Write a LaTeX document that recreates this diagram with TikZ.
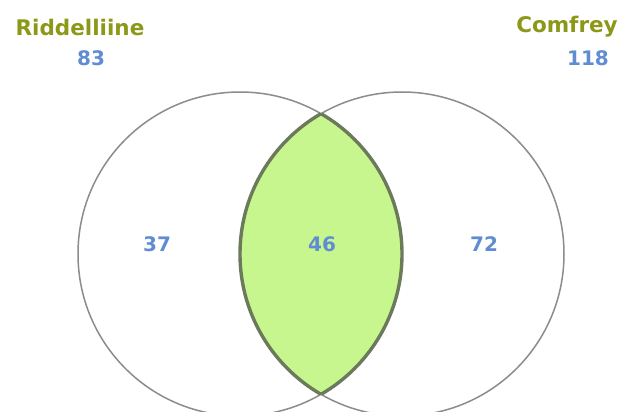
\documentclass[tikz,border=0pt]{standalone}
\usepackage{fontspec}
\setmainfont{DejaVu Sans}
\definecolor{titleolive}{RGB}{140,152,24}
\definecolor{numblue}{RGB}{96,140,210}
\definecolor{lensgreen}{RGB}{200,246,142}
\definecolor{circgray}{RGB}{140,140,140}
\definecolor{lensedge}{RGB}{108,122,92}
\tikzset{
  circ/.style={draw=circgray, line width=1.5pt},
  lensline/.style={draw=lensedge, line width=3.4pt},
  titlelabel/.style={text=titleolive, font=\fontsize{21.5}{24}\selectfont\bfseries, inner sep=0pt},
  numlabel/.style={text=numblue, font=\fontsize{20}{24}\selectfont\bfseries, inner sep=0pt},
}
\begin{document}
\begin{tikzpicture}[x=1pt,y=-1pt]
\useasboundingbox (0,0) rectangle (624,412);
\fill[white] (0,0) rectangle (624,412);
\coordinate (cl) at (240,254);
\coordinate (cr) at (402,254);
\begin{scope}
  \clip (0,0) rectangle (624,412);
  \begin{scope}
    \clip (cl) circle[radius=162];
    \fill[lensgreen] (cr) circle[radius=162];
  \end{scope}
  \draw[circ] (cl) circle[radius=162];
  \draw[circ] (cr) circle[radius=162];
  \begin{scope}
    \clip (cl) circle[radius=162];
    \draw[lensline] (cr) circle[radius=162];
  \end{scope}
  \begin{scope}
    \clip (cr) circle[radius=162];
    \draw[lensline] (cl) circle[radius=162];
  \end{scope}
\end{scope}
\node[titlelabel] (tl) at (80,27) {Riddelliine};
\node[numlabel] (nl) at (91,58) {83};
\node[titlelabel] (tr) at (567,27) {Comfrey};
\node[numlabel] (nr) at (588,58) {118};
\node[numlabel] (a) at (157,244) {37};
\node[numlabel] (b) at (322,244) {46};
\node[numlabel] (c) at (484,244) {72};
\end{tikzpicture}
\end{document}
